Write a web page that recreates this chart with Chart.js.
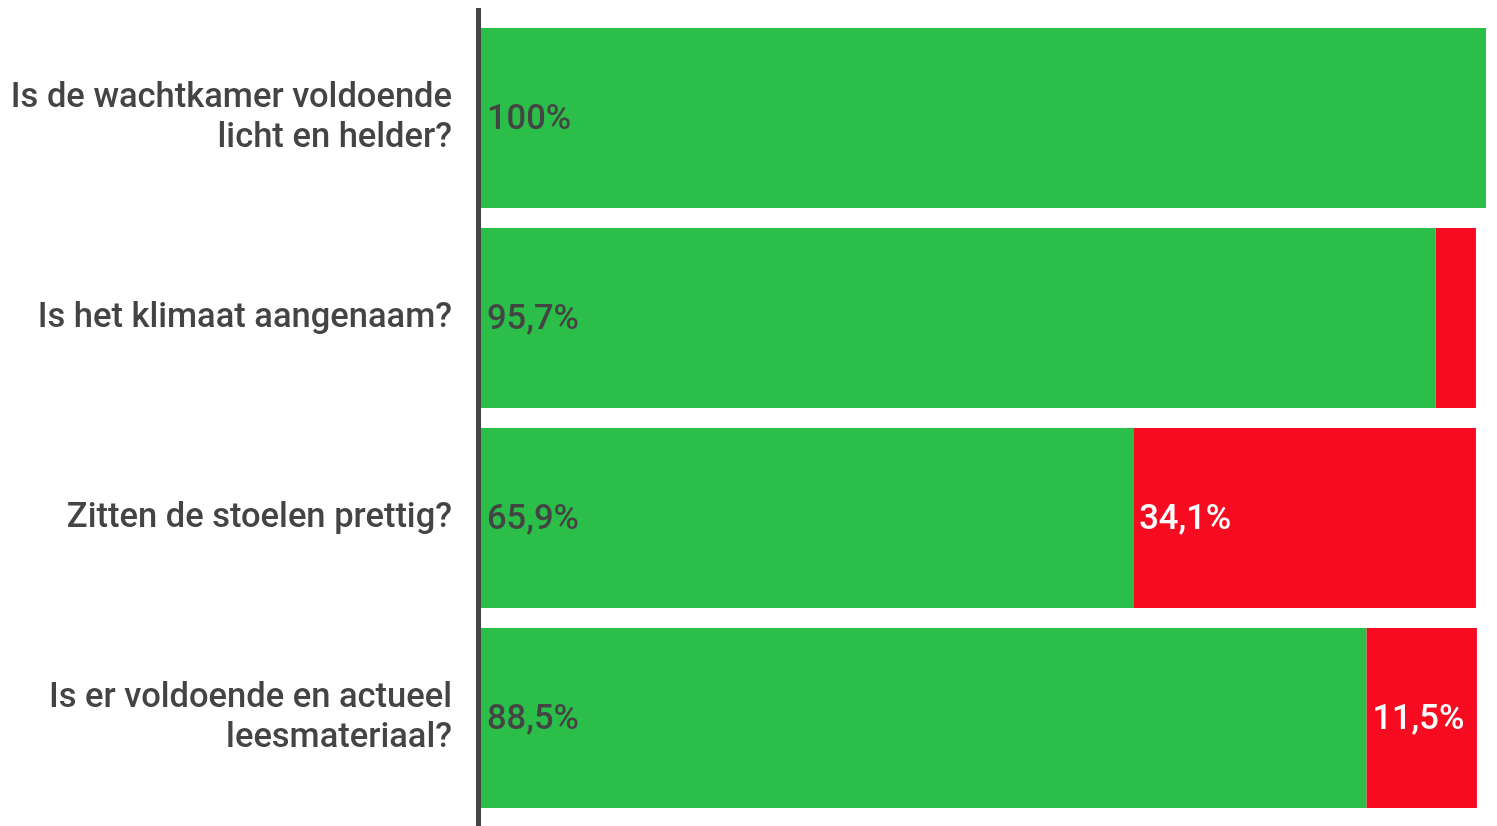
<!DOCTYPE html>
<html>
<head>
<meta charset="utf-8">
<script src="https://cdn.jsdelivr.net/npm/chart.js@4.4.0/dist/chart.umd.min.js"></script>
<style>
  html, body { margin: 0; padding: 0; background: #fff; }
  #wrap { width: 1497px; height: 826px; }
</style>
</head>
<body>
<div id="wrap"><canvas id="chart"></canvas></div>
<script>
// Vragen (categorieën)
const questions = [
    ['Is de wachtkamer voldoende', 'licht en helder?'],
    'Is het klimaat aangenaam?',
    'Zitten de stoelen prettig?',
    ['Is er voldoende en actueel', 'leesmateriaal?']
];

// Balklengtes zoals
const yesValues = [100, 95.0, 64.9, 88.1];
const noValues = [0, 4.0, 34.1, 11.0];

// Teksten op de balken
const yesLabels = ['100%', '95,7%', '65,9%', '88,5%'];
const noLabels = ['', '', '34,1%', '11,5%'];

const textColor = '#444444';
const fontSize = 34.5;

// Eigen plugin: labels in de balken en de verticale as
const barLabels = {
    id: 'barLabels',
    afterDatasetsDraw(chart) {
        const ctx = chart.ctx;
        ctx.save();
        ctx.font = '500 ' + fontSize + 'px Roboto';
        ctx.textBaseline = 'middle';
        ctx.textAlign = 'left';
        chart.data.datasets.forEach((ds, i) => {
            const meta = chart.getDatasetMeta(i);
            meta.data.forEach((bar, j) => {
                const txt = ds.valueLabels[j];
                if (!txt) return;
                ctx.fillStyle = ds.labelColor;
                ctx.fillText(txt, bar.base + 6, bar.y + 2);
            });
        });
        ctx.restore();
    },
    afterDraw(chart) {
        const ctx = chart.ctx;
        const x = chart.chartArea.left - 2.5;
        ctx.save();
        ctx.strokeStyle = textColor;
        ctx.lineWidth = 5;
        ctx.beginPath();
        ctx.moveTo(x, 8);
        ctx.lineTo(x, 826);
        ctx.stroke();
        ctx.restore();
    }
};

const ctx = document.getElementById('chart').getContext('2d');
const chart = new Chart(ctx, {
    type: 'bar',
    data: {
        labels: questions,
        datasets: [
            {
                label: 'Ja',
                data: yesValues,
                valueLabels: yesLabels,
                labelColor: textColor,
                backgroundColor: '#2bbf4a',
                borderWidth: 0,
                barPercentage: 0.9,
                categoryPercentage: 1
            },
            {
                label: 'Nee',
                data: noValues,
                valueLabels: noLabels,
                labelColor: '#ffffff',
                backgroundColor: '#f60b20',
                borderWidth: 0,
                barPercentage: 0.9,
                categoryPercentage: 1
            }
        ]
    },
    options: {
        indexAxis: 'y',
        responsive: true,
        maintainAspectRatio: false,
        animation: false,
        layout: {
            padding: { top: 18, bottom: 8, right: 11, left: 0 }
        },
        scales: {
            x: {
                stacked: true,
                min: 0,
                max: 100,
                display: false
            },
            y: {
                stacked: true,
                grid: { display: false, drawTicks: false },
                border: { display: false },
                ticks: {
                    color: textColor,
                    padding: 29,
                    font: { family: 'Roboto', size: fontSize, weight: '500', lineHeight: 1.16 }
                },
                afterFit: function(scale) {
                    scale.width = 481;
                    scale.paddingTop = 0;
                    scale.paddingBottom = 0;
                }
            }
        },
        plugins: {
            legend: { display: false },
            tooltip: { enabled: false }
        }
    },
    plugins: [barLabels]
});
</script>
</body>
</html>
